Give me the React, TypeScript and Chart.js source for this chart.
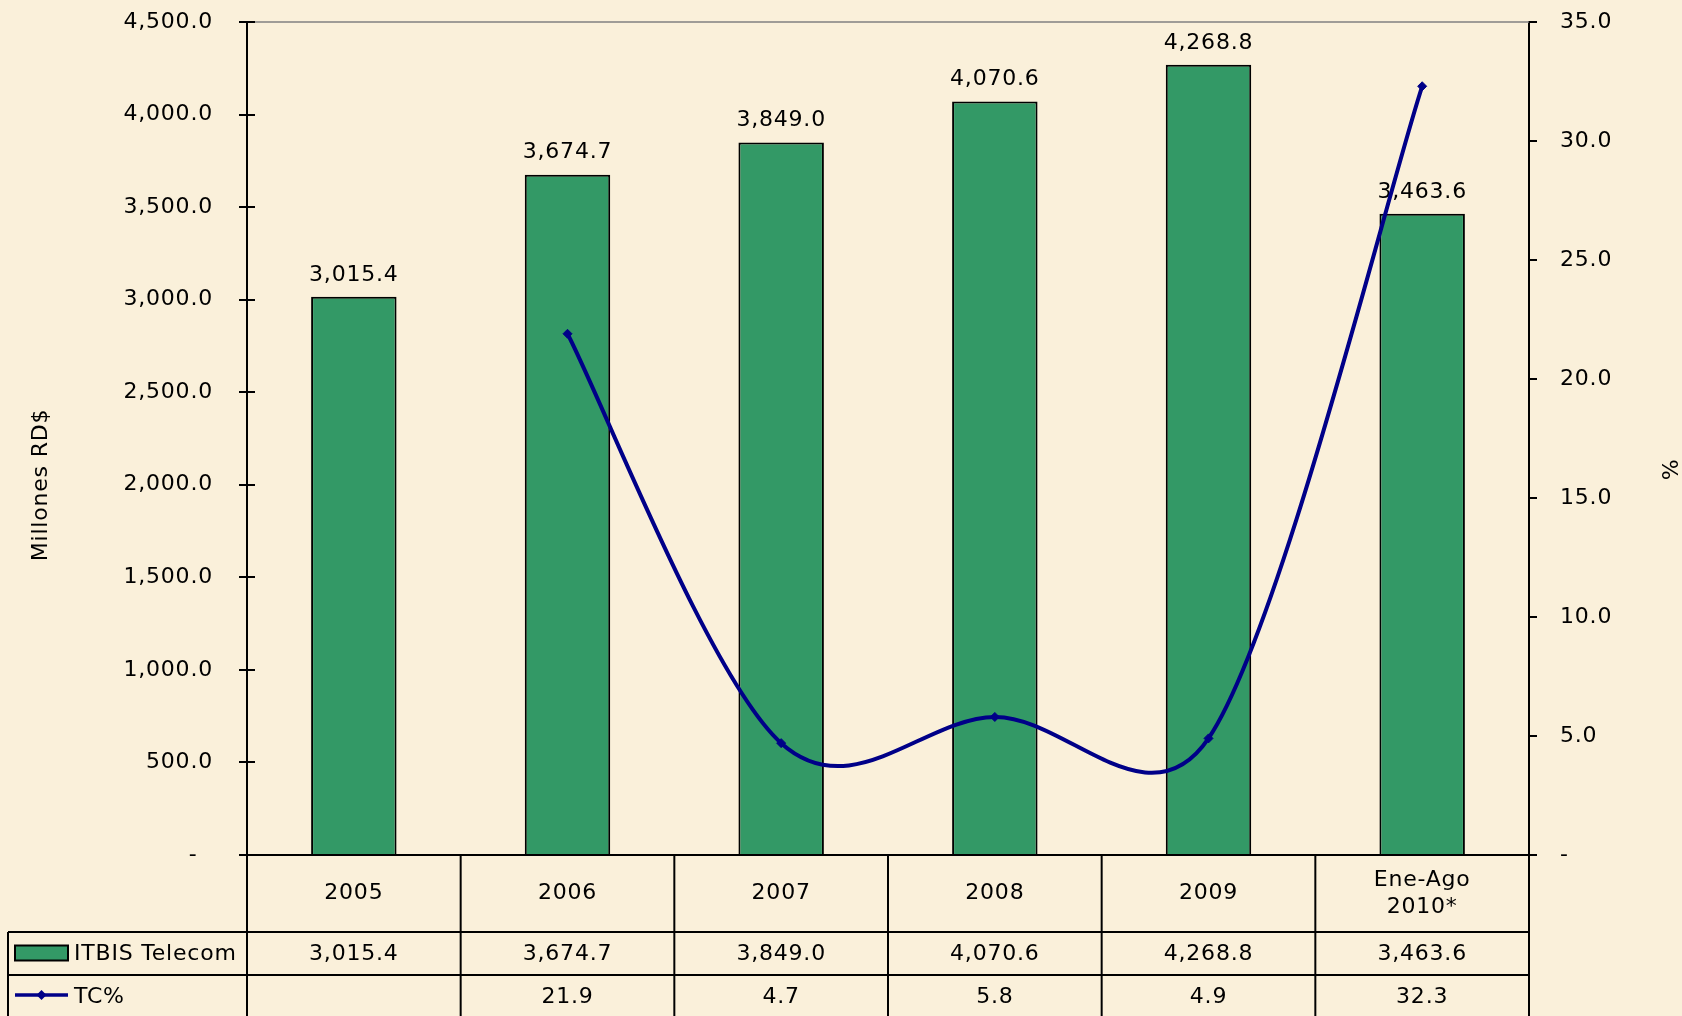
import React, { useEffect, useRef } from 'react';
import { Chart, registerables } from 'chart.js';

Chart.register(...registerables);

// ---- Data ----
const categories: string[][] = [['2005'], ['2006'], ['2007'], ['2008'], ['2009'], ['Ene-Ago', '2010*']];
const itbisValues: number[] = [3015.4, 3674.7, 3849.0, 4070.6, 4268.8, 3463.6];
const tcValues: (number | null)[] = [null, 21.9, 4.7, 5.8, 4.9, 32.3];
const seriesNames: string[] = ['ITBIS Telecom', 'TC%'];
const leftAxisTitle = 'Millones RD$';
const rightAxisTitle = '%';
const leftAxisRange = { min: 0, max: 4500, step: 500 };
const rightAxisRange = { min: 0, max: 35, step: 5 };

// ---- Styles ----
const BG = '#FAF0DA';
const BAR_COLOR = '#339966';
const LINE_COLOR = '#000088';
const FONT = "22px 'DejaVu Sans'";
const LETTER_SPACING = '0.8px';

const fmt = (v: number) =>
  v.toLocaleString('en-US', { minimumFractionDigits: 1, maximumFractionDigits: 1 });

// Excel-like smoothing: Bezier control points at 1/6 of neighbour chord, capped at half segment
function applyExcelSmoothing(meta: any) {
  const pts = meta.data.filter((p: any) => !p.skip);
  const dist = (a: any, b: any) => Math.hypot(b.x - a.x, b.y - a.y);
  for (let i = 0; i < pts.length - 1; i++) {
    const p1 = pts[i];
    const p2 = pts[i + 1];
    const p0 = pts[i - 1] || p1;
    const p3 = pts[i + 2] || p2;
    const d12 = dist(p1, p2);
    const d02 = dist(p0, p2);
    const d13 = dist(p1, p3);
    const f1 = d02 > 0 && d02 / 6 >= d12 / 2 ? d12 / (2 * d02) : 1 / 6;
    const f2 = d13 > 0 && d13 / 6 >= d12 / 2 ? d12 / (2 * d13) : 1 / 6;
    p1.cp2x = p1.x + f1 * (p2.x - p0.x);
    p1.cp2y = p1.y + f1 * (p2.y - p0.y);
    p2.cp1x = p2.x - f2 * (p3.x - p1.x);
    p2.cp1y = p2.y - f2 * (p3.y - p1.y);
  }
  if (pts.length) {
    pts[0].cp1x = pts[0].x;
    pts[0].cp1y = pts[0].y;
    const last = pts[pts.length - 1];
    last.cp2x = last.x;
    last.cp2y = last.y;
  }
  if (meta.dataset) {
    meta.dataset._pointsUpdated = true;
    meta.dataset._path = undefined;
  }
}

const excelPlugin = {
  id: 'excelExtras',
  beforeDraw(chart: any) {
    const { ctx, width, height } = chart;
    ctx.save();
    ctx.fillStyle = BG;
    ctx.fillRect(0, 0, width, height);
    ctx.restore();
    try {
      (ctx as any).letterSpacing = LETTER_SPACING;
    } catch (e) {}
  },
  beforeDatasetDraw(chart: any, args: any) {
    if (args.meta.type === 'line') applyExcelSmoothing(args.meta);
  },
  afterDatasetDraw(chart: any, args: any) {
    if (args.index !== 0) return;
    const ctx = chart.ctx;
    const meta = chart.getDatasetMeta(0);
    ctx.save();
    ctx.font = FONT;
    ctx.fillStyle = '#000';
    ctx.textAlign = 'center';
    ctx.textBaseline = 'bottom';
    meta.data.forEach((bar: any, i: number) => {
      ctx.fillText(fmt(itbisValues[i]), bar.x, bar.y - 11);
    });
    ctx.restore();
  },
  afterDraw(chart: any) {
    const { ctx, chartArea, scales, height } = chart;
    const { left, right, top, bottom } = chartArea;
    const n = categories.length;
    const colW = (right - left) / n;
    const xs = scales.x;
    const yL = scales.y;
    ctx.save();
    ctx.strokeStyle = '#808080';
    ctx.lineWidth = 1.5;
    ctx.beginPath();
    ctx.moveTo(left, top);
    ctx.lineTo(right, top);
    ctx.stroke();

    ctx.strokeStyle = '#000';
    ctx.lineWidth = 2;
    yL.ticks.forEach((t: any) => {
      const y = Math.round(yL.getPixelForValue(t.value));
      ctx.beginPath();
      ctx.moveTo(left, y);
      ctx.lineTo(left + 8, y);
      ctx.stroke();
    });
    ctx.beginPath();
    ctx.moveTo(left - 8, bottom);
    ctx.lineTo(right + 8, bottom);
    ctx.stroke();

    const row1Bottom = bottom + 77;
    const row2Bottom = bottom + 120;
    const tableLeft = 8;

    for (let k = 0; k <= n; k++) {
      const x = left + k * colW;
      ctx.beginPath();
      ctx.moveTo(x, bottom);
      ctx.lineTo(x, height);
      ctx.stroke();
    }
    ctx.beginPath();
    ctx.moveTo(tableLeft, row1Bottom);
    ctx.lineTo(tableLeft, height);
    ctx.stroke();
    [row1Bottom, row2Bottom].forEach((y) => {
      ctx.beginPath();
      ctx.moveTo(tableLeft, y);
      ctx.lineTo(right, y);
      ctx.stroke();
    });

    ctx.font = FONT;
    ctx.fillStyle = '#000';
    ctx.textAlign = 'center';
    ctx.textBaseline = 'middle';
    categories.forEach((lines, i) => {
      const cx = xs.getPixelForValue(i);
      const midY = (bottom + row1Bottom) / 2;
      const lh = 27;
      lines.forEach((ln, j) => {
        const y = midY + (j - (lines.length - 1) / 2) * lh;
        ctx.fillText(ln, cx, y);
      });
      ctx.fillText(fmt(itbisValues[i]), cx, (row1Bottom + row2Bottom) / 2 + 1);
      const tv = tcValues[i];
      if (tv !== null) ctx.fillText(fmt(tv), cx, row2Bottom + 22);
    });

    const r2mid = (row1Bottom + row2Bottom) / 2;
    ctx.fillStyle = BAR_COLOR;
    ctx.fillRect(15, r2mid - 8, 53, 15);
    ctx.lineWidth = 2;
    ctx.strokeRect(15, r2mid - 8, 53, 15);
    ctx.fillStyle = '#000';
    ctx.textAlign = 'left';
    ctx.fillText(seriesNames[0], 74, r2mid + 1);

    const r3y = row2Bottom + 20;
    ctx.strokeStyle = LINE_COLOR;
    ctx.lineWidth = 3.5;
    ctx.beginPath();
    ctx.moveTo(15, r3y);
    ctx.lineTo(68, r3y);
    ctx.stroke();
    ctx.fillStyle = LINE_COLOR;
    ctx.beginPath();
    ctx.moveTo(41.5, r3y - 5);
    ctx.lineTo(46.5, r3y);
    ctx.lineTo(41.5, r3y + 5);
    ctx.lineTo(36.5, r3y);
    ctx.closePath();
    ctx.fill();
    ctx.fillStyle = '#000';
    ctx.fillText(seriesNames[1], 74, row2Bottom + 22);

    ctx.textAlign = 'center';
    ctx.textBaseline = 'middle';
    ctx.save();
    ctx.translate(41, 485);
    ctx.rotate(-Math.PI / 2);
    ctx.fillText(leftAxisTitle, 0, 0);
    ctx.restore();
    ctx.save();
    ctx.translate(1668, 470);
    ctx.rotate(Math.PI / 2);
    ctx.fillText(rightAxisTitle, 0, 0);
    ctx.restore();

    ctx.restore();
  },
};

export default function App() {
  const ref = useRef<HTMLCanvasElement>(null);
  useEffect(() => {
    document.body.style.margin = '0';
    Chart.defaults.font.family = "'DejaVu Sans'";
    const chart = new Chart(ref.current!, {
      type: 'bar',
      data: {
        labels: categories.map((c) => c.join(' ')),
        datasets: [
          {
            type: 'bar',
            label: seriesNames[0],
            data: itbisValues,
            backgroundColor: BAR_COLOR,
            borderColor: '#000',
            borderWidth: 2,
            barPercentage: 0.4,
            categoryPercentage: 1.0,
            yAxisID: 'y',
            order: 1,
          } as any,
          {
            type: 'line',
            label: seriesNames[1],
            data: tcValues,
            borderColor: LINE_COLOR,
            backgroundColor: LINE_COLOR,
            borderWidth: 4,
            tension: 0.4,
            pointStyle: 'rectRot',
            pointRadius: 4.5,
            pointBackgroundColor: LINE_COLOR,
            pointBorderColor: LINE_COLOR,
            pointBorderWidth: 1,
            yAxisID: 'y1',
            order: 0,
          } as any,
        ],
      },
      options: {
        responsive: false,
        animation: false,
        devicePixelRatio: 1,
        layout: { padding: { top: 22, left: 0, right: 0, bottom: 0 } },
        plugins: { legend: { display: false }, tooltip: { enabled: false } },
        scales: {
          x: {
            grid: { display: false },
            border: { display: false },
            ticks: { display: false },
            afterFit: (s: any) => {
              s.height = 161;
            },
          },
          y: {
            position: 'left',
            min: leftAxisRange.min,
            max: leftAxisRange.max,
            ticks: {
              stepSize: leftAxisRange.step,
              color: '#000',
              font: { size: 22, family: "'DejaVu Sans'" },
              padding: 26,
              callback: (v: any) => (v === 0 ? '-  ' : fmt(Number(v))),
            },
            grid: { drawOnChartArea: false, tickLength: 8, color: '#000', lineWidth: 2 },
            border: { color: '#000', width: 2 },
            afterFit: (s: any) => {
              s.width = 247;
              s.paddingTop = 0;
              s.paddingBottom = 0;
            },
          },
          y1: {
            position: 'right',
            min: rightAxisRange.min,
            max: rightAxisRange.max,
            ticks: {
              stepSize: rightAxisRange.step,
              color: '#000',
              font: { size: 22, family: "'DejaVu Sans'" },
              padding: 23,
              callback: (v: any) => (v === 0 ? '-' : fmt(Number(v))),
            },
            grid: { drawOnChartArea: false, tickLength: 8, color: '#000', lineWidth: 2 },
            border: { color: '#000', width: 2 },
            afterFit: (s: any) => {
              s.width = 153;
              s.paddingTop = 0;
              s.paddingBottom = 0;
            },
          },
        },
      },
      plugins: [excelPlugin],
    });
    return () => chart.destroy();
  }, []);
  return (
    <div style={{ position: 'absolute', left: 0, top: 0, width: 1682, height: 1016, background: BG }}>
      <canvas ref={ref} width={1682} height={1016} style={{ width: 1682, height: 1016, display: 'block' }} />
    </div>
  );
}
